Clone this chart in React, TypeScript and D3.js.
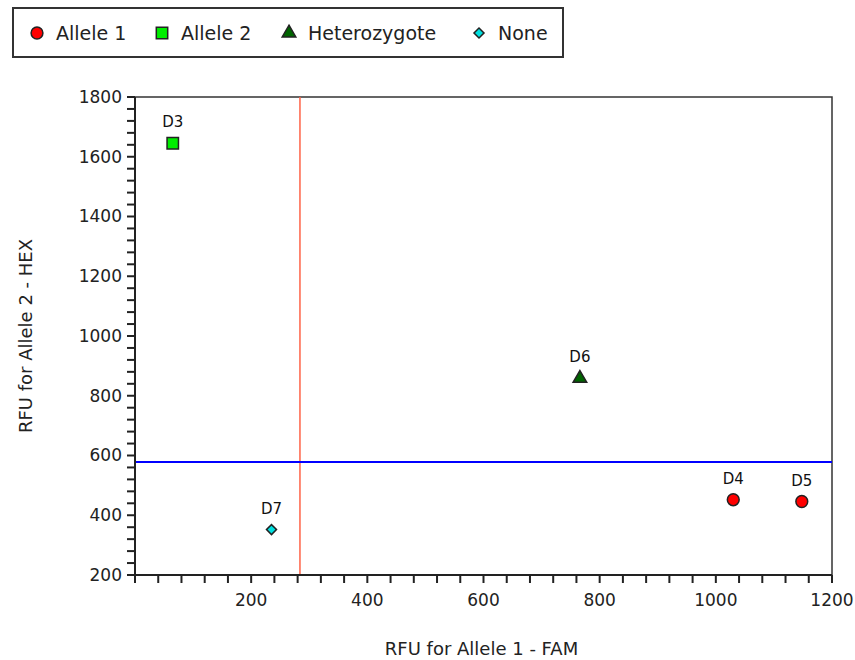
import React from 'react';
import * as d3 from 'd3';

// sample wells
const wells = ['D3', 'D7', 'D6', 'D4', 'D5'];
const fam = [65, 235, 766, 1030, 1148];
const hex = [1645, 352, 858, 452, 446];
const calls = ['Allele 2', 'None', 'Heterozygote', 'Allele 1', 'Allele 1'];

const legendNames = ['Allele 1', 'Allele 2', 'Heterozygote', 'None'];
const xTicks = [200, 400, 600, 800, 1000, 1200];
const yTicks = [200, 400, 600, 800, 1000, 1200, 1400, 1600, 1800];
const famThreshold = 284;
const hexThreshold = 578;

const width = 855;
const height = 660;
const margin = { top: 97, right: 23, bottom: 85, left: 135 };
const font = 'Tahoma, "DejaVu Sans", sans-serif';

const symbols = {
  'Allele 1': { type: d3.symbolCircle, fill: '#ff0000', size: 110, rot: 0 },
  'Allele 2': { type: d3.symbolSquare, fill: '#00ee00', size: 130, rot: 0 },
  'Heterozygote': { type: d3.symbolTriangle, fill: '#006400', size: 80, rot: 0 },
  'None': { type: d3.symbolSquare, fill: '#00e0e0', size: 50, rot: 45 },
};

const Marker = ({ name, x, y }) => {
  const s = symbols[name];
  return (
    <path
      transform={`translate(${x},${y}) rotate(${s.rot})`}
      d={d3.symbol().type(s.type).size(s.size)()}
      fill={s.fill}
      stroke="#222"
      strokeWidth={1.5}
    />
  );
};

export default function App() {
  const innerWidth = width - margin.left - margin.right;
  const innerHeight = height - margin.top - margin.bottom;

  const xScale = d3.scaleLinear().domain([0, 1200]).range([0, innerWidth]);
  const yScale = d3.scaleLinear().domain([200, 1800]).range([innerHeight, 0]);

  const xMinor = d3.range(0, 1201, 40);
  const yMinor = d3.range(200, 1801, 40);

  const legendX = [37, 162, 289, 479];

  return (
    <svg width={width} height={height} style={{ position: 'absolute', left: 0, top: 0, fontFamily: font }}>
      {/* legend */}
      <rect x={13} y={8} width={550} height={49} fill="white" stroke="#333" strokeWidth={2} />
      {legendNames.map((n, i) => (
        <g key={n}>
          <Marker name={n} x={legendX[i]} y={33} />
          <text x={legendX[i] + 19} y={33} dy=".35em" fontSize={19} fill="#222">
            {n}
          </text>
        </g>
      ))}

      <g transform={`translate(${margin.left},${margin.top})`}>
        {/* frame */}
        <rect width={innerWidth} height={innerHeight} fill="white" stroke="#333" strokeWidth={1.5} />

        {/* threshold lines */}
        <line x1={xScale(famThreshold)} x2={xScale(famThreshold)} y1={0} y2={innerHeight} stroke="#ff6347" strokeWidth={1.5} />
        <line x1={0} x2={innerWidth} y1={yScale(hexThreshold)} y2={yScale(hexThreshold)} stroke="#0000ff" strokeWidth={2} />

        {/* left axis */}
        <line x1={0} x2={0} y1={0} y2={innerHeight + 8} stroke="#222" strokeWidth={2} />
        {yMinor.map(v => (
          <line key={v} x1={-8} x2={0} y1={yScale(v)} y2={yScale(v)} stroke="#222" strokeWidth={2} />
        ))}
        {yTicks.map(v => (
          <text key={v} x={-13} y={yScale(v)} dy=".35em" textAnchor="end" fontSize={17} fill="#222">
            {v}
          </text>
        ))}

        {/* bottom axis */}
        <line x1={-8} x2={innerWidth} y1={innerHeight} y2={innerHeight} stroke="#222" strokeWidth={2} />
        {xMinor.map(v => (
          <line key={v} x1={xScale(v)} x2={xScale(v)} y1={innerHeight} y2={innerHeight + 8} stroke="#222" strokeWidth={2} />
        ))}
        {xTicks.map(v => (
          <text key={v} x={xScale(v)} y={innerHeight + 31} textAnchor="middle" fontSize={17} fill="#222">
            {v}
          </text>
        ))}

        {/* points */}
        {wells.map((w, i) => (
          <g key={w}>
            <Marker name={calls[i]} x={xScale(fam[i])} y={yScale(hex[i])} />
            <text x={xScale(fam[i])} y={yScale(hex[i]) - 16} textAnchor="middle" fontSize={15} fill="#111">
              {w}
            </text>
          </g>
        ))}

        {/* axis titles */}
        <text x={innerWidth / 2 - 2} y={innerHeight + 80} textAnchor="middle" fontSize={18} fill="#222">
          RFU for Allele 1 - FAM
        </text>
        <text
          transform={`translate(${-103},${innerHeight / 2}) rotate(-90)`}
          textAnchor="middle"
          fontSize={18}
          fill="#222"
        >
          RFU for Allele 2 - HEX
        </text>
      </g>
    </svg>
  );
}
